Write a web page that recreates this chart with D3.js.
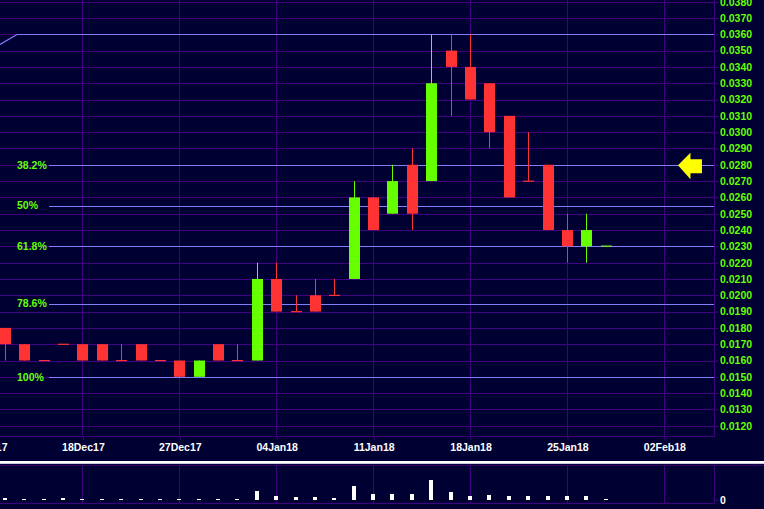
<!DOCTYPE html>
<html>
<head>
<meta charset="utf-8">
<script src="https://cdn.jsdelivr.net/npm/d3@7"></script>
<style>
html,body{margin:0;padding:0;background:#000033;}
svg{display:block;}
text{font-family:"Liberation Sans",Arial,sans-serif;font-weight:bold;font-size:10.5px;}
</style>
</head>
<body>
<svg id="chart" width="764" height="509"></svg>
<script>
// ---- data ----
const barDates = ["12Dec17","13Dec17","14Dec17","15Dec17","18Dec17","19Dec17","20Dec17","21Dec17","22Dec17","27Dec17","28Dec17","29Dec17","02Jan18","03Jan18","04Jan18","05Jan18","08Jan18","09Jan18","10Jan18","11Jan18","12Jan18","15Jan18","16Jan18","17Jan18","18Jan18","19Jan18","22Jan18","23Jan18","24Jan18","25Jan18","26Jan18","29Jan18"];
const openV  = [0.018,0.017,0.016,0.017,0.017,0.017,0.016,0.017,0.016,0.016,0.015,0.017,0.016,0.016,0.021,0.019,0.020,0.020,0.021,0.026,0.025,0.028,0.027,0.035,0.034,0.033,0.031,0.027,0.028,0.024,0.023,0.0230];
const highV  = [0.018,0.017,0.016,0.017,0.017,0.017,0.017,0.017,0.016,0.016,0.016,0.017,0.017,0.022,0.022,0.020,0.021,0.021,0.027,0.026,0.028,0.029,0.036,0.036,0.036,0.033,0.031,0.030,0.028,0.025,0.025,0.0230];
const lowV   = [0.016,0.016,0.016,0.017,0.016,0.016,0.016,0.016,0.016,0.015,0.015,0.016,0.016,0.016,0.019,0.019,0.019,0.020,0.021,0.024,0.025,0.024,0.027,0.031,0.032,0.029,0.026,0.027,0.024,0.022,0.022,0.0230];
const closeV = [0.017,0.016,0.016,0.017,0.016,0.016,0.016,0.016,0.016,0.015,0.016,0.016,0.016,0.021,0.019,0.019,0.019,0.020,0.026,0.024,0.027,0.025,0.033,0.034,0.032,0.030,0.026,0.027,0.024,0.023,0.024,0.02302];
const volumeV = [2,1,1,2,1,1,1,1,1,1,1,1,1,9,4,3,3,2,14,6,6,6,20,8,4,5,4,4,4,4,4,1];

const tickIndex  = [-1,4,9,14,19,24,29,34];
const tickLabels = ["11Dec17","18Dec17","27Dec17","04Jan18","11Jan18","18Jan18","25Jan18","02Feb18"];
const priceTicks = [0.012,0.013,0.014,0.015,0.016,0.017,0.018,0.019,0.020,0.021,0.022,0.023,0.024,0.025,0.026,0.027,0.028,0.029,0.030,0.031,0.032,0.033,0.034,0.035,0.036,0.037,0.038];
const volumeTicks = [0];

const fibHigh = 0.036, fibLow = 0.015;
const fibRatios = [0.382,0.5,0.618,0.786,1.0];
const fibLabels = ["38.2%","50%","61.8%","78.6%","100%"];
const trendLine = [{i:-0.25,v:0.03542},{i:0.62,v:0.036},{i:37,v:0.036}];
const arrowAt = {i:34.73, ratio:0.382};

// ---- layout ----
const W = 764, plotR = 714, plotB = 436;
const volTop = 465, volBase = 500, volB = 503;
const GRID = "#40007f", FIB = "#8080ff", RED = "#ff3333", GREEN = "#66ff00";

const svg = d3.select("#chart");
svg.append("rect").attr("width",W).attr("height",509).attr("fill","#000033");

const x = d3.scaleLinear().domain([0,34]).range([4.9, 4.9 + 34*19.38]);
const y = d3.scaleLinear().domain([0.037 - (plotB-18)/16.31*0.001, 0.037 + 18/16.31*0.001]).range([plotB, 0]);
const yv = d3.scaleLinear().domain([0,35]).range([volBase, volTop]);

svg.append("defs").append("clipPath").attr("id","clipMain")
  .append("rect").attr("x",0).attr("y",0).attr("width",plotR).attr("height",plotB);
svg.select("defs").append("clipPath").attr("id","clipVol")
  .append("rect").attr("x",0).attr("y",volTop).attr("width",plotR).attr("height",volB-volTop);

// grid main
const grid = svg.append("g").attr("clip-path","url(#clipMain)");
grid.selectAll("line.h").data(priceTicks).join("line")
  .attr("x1",0).attr("x2",plotR).attr("y1",d=>Math.round(y(d))+0.5).attr("y2",d=>Math.round(y(d))+0.5)
  .attr("stroke",GRID).attr("stroke-width",1);
grid.selectAll("line.v").data(tickIndex).join("line")
  .attr("x1",d=>Math.round(x(d))+0.5).attr("x2",d=>Math.round(x(d))+0.5).attr("y1",0).attr("y2",plotB)
  .attr("stroke",GRID).attr("stroke-width",1);

// borders main
svg.append("line").attr("x1",plotR+0.5).attr("x2",plotR+0.5).attr("y1",0).attr("y2",plotB+0.5).attr("stroke",GRID);
svg.append("line").attr("x1",0).attr("x2",plotR+0.5).attr("y1",plotB+0.5).attr("y2",plotB+0.5).attr("stroke",GRID);

// fib lines
const main = svg.append("g").attr("clip-path","url(#clipMain)");
const fibVals = fibRatios.map(r => fibHigh - r*(fibHigh-fibLow));
main.selectAll("line.fib").data(fibVals).join("line")
  .attr("x1",49).attr("x2",plotR).attr("y1",d=>Math.round(y(d))+0.5).attr("y2",d=>Math.round(y(d))+0.5)
  .attr("stroke",FIB).attr("stroke-width",1.2);
svg.selectAll("text.fib").data(fibVals).join("text")
  .attr("x",17).attr("y",d=>y(d)).attr("dy","0.36em")
  .attr("fill",GREEN).text((d,i)=>fibLabels[i]);

// trend/top line
main.append("path")
  .attr("d", d3.line().x(d=>x(d.i)).y(d=>Math.round(y(d.v))+0.5)(trendLine))
  .attr("fill","none").attr("stroke",FIB).attr("stroke-width",1.2);

// candles
const bars = barDates.map((d,i)=>({i, o:openV[i], h:highV[i], l:lowV[i], c:closeV[i]}));
const bw = 11;
const cg = main.selectAll("g.candle").data(bars).join("g");
cg.append("line")
  .attr("x1",d=>Math.round(x(d.i))+0.5).attr("x2",d=>Math.round(x(d.i))+0.5)
  .attr("y1",d=>y(d.h)).attr("y2",d=>y(d.l))
  .attr("stroke",d=>d.c>d.o?GREEN:RED).attr("stroke-width",1);
cg.append("rect")
  .attr("x",d=>Math.round(x(d.i))-5)
  .attr("y",d=>Math.min(y(d.o),y(d.c)) - (Math.abs(y(d.o)-y(d.c))<1?0.5:0))
  .attr("width",bw)
  .attr("height",d=>Math.max(1.2,Math.abs(y(d.o)-y(d.c))))
  .attr("fill",d=>d.c>d.o?GREEN:RED);

// arrow
const ay = y(fibHigh - arrowAt.ratio*(fibHigh-fibLow));
const ax = x(arrowAt.i);
svg.append("path")
  .attr("d",`M${ax},${ay} L${ax+12.5},${ay-12.5} L${ax+12.5},${ay-6} L${ax+24},${ay-6} L${ax+24},${ay+8} L${ax+12.5},${ay+8} L${ax+12.5},${ay+14} Z`)
  .attr("fill","#ffff00");

// axes
const yAxis = d3.axisRight(y).tickValues(priceTicks).tickFormat(d3.format(".4f")).tickSize(4).tickSizeOuter(0).tickPadding(2);
const gy = svg.append("g").attr("transform",`translate(${plotR+0.5},0)`).call(yAxis);
gy.select(".domain").remove();
gy.selectAll(".tick line").attr("stroke",GRID);
gy.selectAll(".tick text").attr("fill",GREEN).attr("font-family",null).attr("font-size",null).attr("x",5.5);

const xAxis = d3.axisBottom(x).tickValues(tickIndex).tickFormat((d,i)=>tickLabels[i]).tickSize(4).tickSizeOuter(0).tickPadding(4);
const gx = svg.append("g").attr("transform",`translate(0.5,${plotB})`).call(xAxis);
gx.select(".domain").remove();
gx.selectAll(".tick line").attr("stroke",GRID);
gx.selectAll(".tick text").attr("fill","#ffffff").attr("font-family",null).attr("font-size",null);

// separator
svg.append("rect").attr("x",0).attr("y",461).attr("width",W).attr("height",2).attr("fill","#ffffff");
svg.append("rect").attr("x",0).attr("y",463).attr("width",W).attr("height",1).attr("fill","#c8c8d8");
svg.append("line").attr("x1",0).attr("x2",W).attr("y1",465.5).attr("y2",465.5).attr("stroke","#3a0070");

// volume panel
const vg = svg.append("g").attr("clip-path","url(#clipVol)");
vg.selectAll("line.v").data(tickIndex).join("line")
  .attr("x1",d=>Math.round(x(d))+0.5).attr("x2",d=>Math.round(x(d))+0.5).attr("y1",volTop).attr("y2",volB)
  .attr("stroke",GRID);
svg.append("line").attr("x1",0).attr("x2",plotR+0.5).attr("y1",volB+0.5).attr("y2",volB+0.5).attr("stroke",GRID);
svg.append("line").attr("x1",plotR+0.5).attr("x2",plotR+0.5).attr("y1",volTop).attr("y2",volB+0.5).attr("stroke",GRID);
vg.selectAll("rect.vol").data(volumeV).join("rect")
  .attr("x",(d,i)=>Math.round(x(i))-2).attr("width",4)
  .attr("y",d=>yv(d)).attr("height",d=>volBase-yv(d))
  .attr("fill","#ffffff");
const vAxis = d3.axisRight(yv).tickValues(volumeTicks).tickFormat(d3.format("d")).tickSize(4).tickSizeOuter(0).tickPadding(2);
const gv = svg.append("g").attr("transform",`translate(${plotR+0.5},0)`).call(vAxis);
gv.select(".domain").remove();
gv.selectAll(".tick line").attr("stroke",GRID);
gv.selectAll(".tick text").attr("fill","#ffffff").attr("font-family",null).attr("font-size",null).attr("x",5.5);
</script>
</body>
</html>
